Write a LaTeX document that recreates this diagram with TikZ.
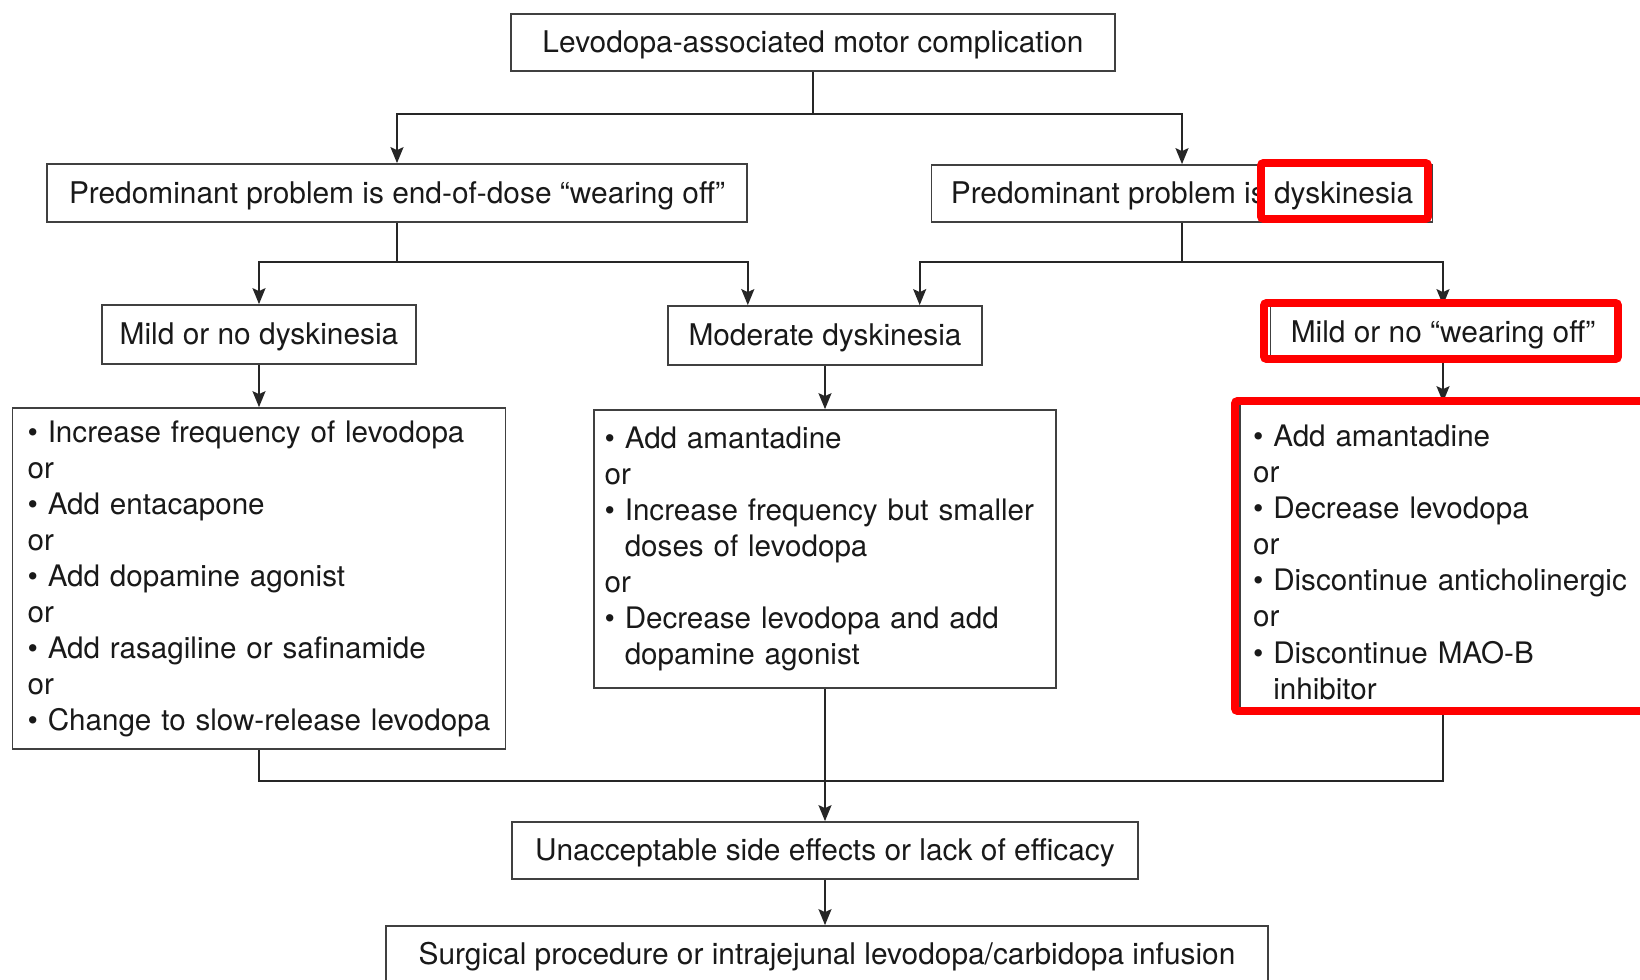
\documentclass[tikz,border=0pt]{standalone}
\usepackage{fontspec}
\setmainfont{TeX Gyre Heros}
\usetikzlibrary{positioning,arrows.meta,calc}

\newcommand{\itm}[1]{\mbox{\textbullet\ #1}}
\newcommand{\cont}[1]{\mbox{\hphantom{\textbullet\ }#1}}

\begin{document}
\begin{tikzpicture}[x=0.02cm,y=-0.02cm,
	box/.style={draw=black!75, line width=1pt, text=black!90, font=\fontsize{17}{20.5}\selectfont, minimum height=1.15cm, inner sep=0pt},
	single/.style={box, text height=15.3pt, text depth=3.4pt},
	listbox/.style={box, align=left, font=\fontsize{16.85}{20.5}\selectfont},
	arr/.style={draw=black!85, line width=1.1pt, -{Stealth[length=3.2mm,width=2.6mm,inset=0.6mm]}},
	link/.style={draw=black!85, line width=1.1pt},
	hilite/.style={draw=red, line width=4.5pt, rounded corners=1.5pt}]
	\useasboundingbox (0,0) rectangle (1640,980);
	\clip (0,0) rectangle (1640,980);

	% first level
	\node[single, minimum width=12.08cm, minimum height=1.14cm] (top) at (813,42.5) {Levodopa-associated motor complication};
	\node[single, minimum width=14cm, minimum height=1.16cm] (wear) at (397,193) {Predominant problem is end-of-dose “wearing off”};
	\node[single, minimum width=10.02cm, minimum height=1.14cm] (dysk) at (1182,193.5) {Predominant problem is dyskinesia};

	% second level
	\node[single, minimum width=6.28cm, minimum height=1.18cm] (mild1) at (259,334.5) {Mild or no dyskinesia};
	\node[single, minimum width=6.28cm, minimum height=1.18cm] (moder) at (825,335.5) {Moderate dyskinesia};
	\node[single, minimum width=6.9cm, minimum height=1.04cm] (mildw) at (1443,332) {Mild or no “wearing off”};

	% options
	\node[listbox, text width=9.26cm, inner xsep=0.3cm, minimum height=6.82cm] (optL) at (259,578.5) {%
		\itm{Increase frequency of levodopa}\\
		or\\
		\itm{Add entacapone}\\
		or\\
		\itm{Add dopamine agonist}\\
		or\\
		\itm{Add rasagiline or safinamide}\\
		or\\
		\itm{Change to slow-release levodopa}};
	\node[listbox, text width=8.82cm, inner xsep=0.21cm, minimum height=5.56cm] (optM) at (825,549) {%
		\itm{Add amantadine}\\
		or\\
		\itm{Increase frequency but smaller}\\
		\cont{doses of levodopa}\\
		or\\
		\itm{Decrease levodopa and add}\\
		\cont{dopamine agonist}};
	\node[listbox, text width=7.6cm, inner xsep=0.26cm, minimum height=6.14cm] (optR) at (1443,556.5) {%
		\rule{0pt}{19pt}\itm{Add amantadine}\\
		or\\
		\itm{Decrease levodopa}\\
		or\\
		\itm{Discontinue anticholinergic}\\
		or\\
		\itm{Discontinue MAO-B}\\
		\cont{inhibitor}};

	% last steps
	\node[single, minimum width=12.52cm, minimum height=1.14cm] (unacc) at (825,850.5) {Unacceptable side effects or lack of efficacy};
	\node[single, minimum width=17.64cm, minimum height=1.14cm] (surg) at (827,954.5) {Surgical procedure or intrajejunal levodopa/carbidopa infusion};

	% connectors
	\draw[arr] (top.south) -- ++(0,42) -| (wear.north);
	\draw[arr] (top.south) -- ++(0,42) -| (dysk.north);
	\draw[arr] (wear.south) -- ++(0,39) -| (mild1.north);
	\draw[arr] (wear.south) -- ++(0,39) -| (wear.south east |- moder.north);
	\draw[arr] (dysk.south) -- ++(0,39) -| ([xshift=-0.22cm]dysk.south west |- moder.north);
	\draw[arr] (dysk.south) -- ++(0,39) -| (mildw.north);
	\draw[arr] (mild1.south) -- (optL.north);
	\draw[arr] (moder.south) -- (optM.north);
	\draw[arr] (mildw.south) -- (optR.north);
	\draw[link] (optL.south) -- ++(0,31) -| (optR.south);
	\draw[arr] (optM.south) -- (unacc.north);
	\draw[arr] (unacc.south) -- (unacc.south |- surg.north);

	% red marks
	\draw[hilite] (1261,163) rectangle (1428,219);
	\draw[hilite] (1264,303) rectangle (1618,359);
	\draw[hilite] (1235,401) rectangle (1680,711);
\end{tikzpicture}
\end{document}
